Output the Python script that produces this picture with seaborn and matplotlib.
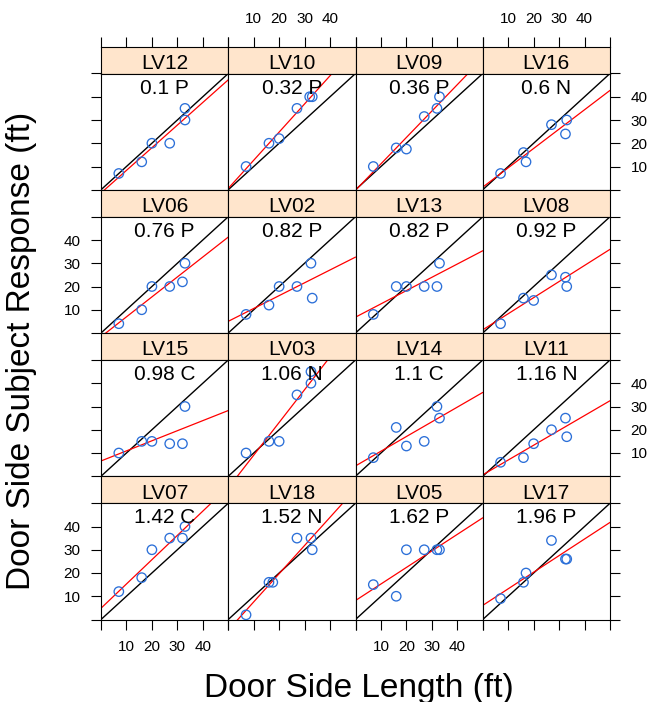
import numpy as np
import pandas as pd
import matplotlib.pyplot as plt
import seaborn as sns

# panel names (row by row, top to bottom) and the text shown in each panel
panels = ["LV12", "LV10", "LV09", "LV16",
          "LV06", "LV02", "LV13", "LV08",
          "LV15", "LV03", "LV14", "LV11",
          "LV07", "LV18", "LV05", "LV17"]
scores = ["0.1 P", "0.32 P", "0.36 P", "0.6 N",
          "0.76 P", "0.82 P", "0.82 P", "0.92 P",
          "0.98 C", "1.06 N", "1.1 C", "1.16 N",
          "1.42 C", "1.52 N", "1.62 P", "1.96 P"]

# door side length (ft)
length = [
    [7, 16, 20, 27, 33, 33], [7, 16, 20, 27, 32, 33],
    [7, 16, 20, 27, 32, 33], [7, 16, 17, 27, 33, 32.5],
    [7, 16, 20, 27, 32, 33], [7, 16, 20, 27, 33, 32.5],
    [7, 16, 20, 27, 32, 33], [7, 16, 20, 27, 32.5, 33],
    [7, 16, 20, 27, 32, 33], [7, 16, 20, 27, 32.5, 32.5],
    [7, 16, 20, 27, 32, 33], [7, 16, 20, 27, 32.5, 33],
    [7, 16, 20, 27, 32, 33], [7, 16, 17.5, 27, 32.5, 33],
    [7, 16, 20, 27, 32, 33], [7, 16, 17, 27, 32.5, 33],
]
# subject response (ft)
response = [
    [7, 12, 20, 20, 30, 35], [10, 20, 22, 35, 40, 40],
    [10, 18, 17.5, 31.5, 35, 40], [7, 16, 12, 28, 30, 24],
    [4, 10, 20, 20, 22, 30], [8, 12, 20, 20, 15, 30],
    [8, 20, 20, 20, 20, 30], [4, 15, 14, 25, 24, 20],
    [10, 15, 15, 14, 14, 30], [10, 15, 15, 35, 40, 45],
    [8, 21, 13, 15, 30, 25], [6, 8, 14, 20, 25, 17],
    [12, 18, 30, 35, 35, 40], [2, 16, 16, 35, 35, 30],
    [15, 10, 30, 30, 30, 30], [9, 16, 20, 34, 26, 26],
]

tick_pos = [0, 10, 20, 30, 40, 50]
tick_lab = ["", "10", "20", "30", "40", ""]

rows = []
for name, xs, ys in zip(panels, length, response):
    for xv, yv in zip(xs, ys):
        rows.append((name, xv, yv))
df = pd.DataFrame(rows, columns=["panel", "length", "response"])

sns.set_theme(style="ticks", rc={"text.color": "black"})
plt.rcParams["font.family"] = ["Liberation Sans", "DejaVu Sans"]

W, H = 653, 702
fig = plt.figure(figsize=(W / 100, H / 100), dpi=100)

left0, pw = 101, 127.25
top0, pitch, sh, ph = 46.5, 143.25, 27, 116.25


def box(x, y, w, h):
    return [x / W, 1 - (y + h) / H, w / W, h / H]


tick_kw = dict(direction="out", length=7.2, width=0.8, color="black",
               labelsize=11, pad=7.5, labelcolor="black")

for i, name in enumerate(panels):
    r, c = divmod(i, 4)
    x0 = left0 + c * pw
    y0 = top0 + r * pitch

    # strip
    sax = fig.add_axes(box(x0, y0, pw, sh))
    sax.set_facecolor("#FFE5CC")
    sax.set_xlim(0, 50)
    sax.set_ylim(0, 1)
    sax.set_xticks(tick_pos)
    sax.set_xticklabels(tick_lab)
    sax.set_yticks([])
    sax.tick_params(axis="x", bottom=False, labelbottom=False,
                    top=(r == 0), labeltop=(r == 0 and c % 2 == 1), **tick_kw)
    sax.text(0.5, 4.5 / sh, name, transform=sax.transAxes, ha="center",
             va="baseline", fontsize=15, color="black")

    # panel
    ax = fig.add_axes(box(x0, y0 + sh, pw, ph))
    ax.set_facecolor("white")
    ax.set_xlim(0, 50)
    ax.set_ylim(0, 50)
    sub = df[df["panel"] == name]
    sns.regplot(data=sub, x="length", y="response", ax=ax, ci=None,
                truncate=False, color="#2b6fd8",
                scatter_kws=dict(facecolors="none", s=46, linewidths=0.95,
                                 alpha=1, zorder=3),
                line_kws=dict(color="red", lw=0.9, zorder=2))
    ax.axline((0, 0), (50, 50), color="black", lw=1.0, zorder=1.5)
    ax.set_xlim(0, 50)
    ax.set_ylim(0, 50)
    ax.set_xlabel("")
    ax.set_ylabel("")
    ax.set_xticks(tick_pos)
    ax.set_xticklabels(tick_lab)
    ax.set_yticks(tick_pos)
    ax.set_yticklabels(tick_lab)
    ax.tick_params(axis="x", top=False, labeltop=False,
                   bottom=(r == 3), labelbottom=(r == 3 and c % 2 == 0),
                   **tick_kw)
    ax.tick_params(axis="y", left=(c == 0), labelleft=(c == 0 and r % 2 == 1),
                   right=(c == 3), labelright=(c == 3 and r % 2 == 0),
                   **tick_kw)
    ax.text(0.5, 1 - 20 / ph, scores[i], transform=ax.transAxes,
            ha="center", va="baseline", fontsize=15, color="black")

    for a in (sax, ax):
        for sp in a.spines.values():
            sp.set_visible(True)
            sp.set_color("black")
            sp.set_linewidth(0.8)

fig.text(359 / W, 1 - 688 / H, "Door Side Length (ft)", ha="center",
         va="center", fontsize=24, color="black")
fig.text(22 / W, 1 - 351 / H, "Door Side Subject Response (ft)", ha="center",
         va="center", rotation=90, fontsize=24, color="black")

fig.savefig("out.png", dpi=100)
